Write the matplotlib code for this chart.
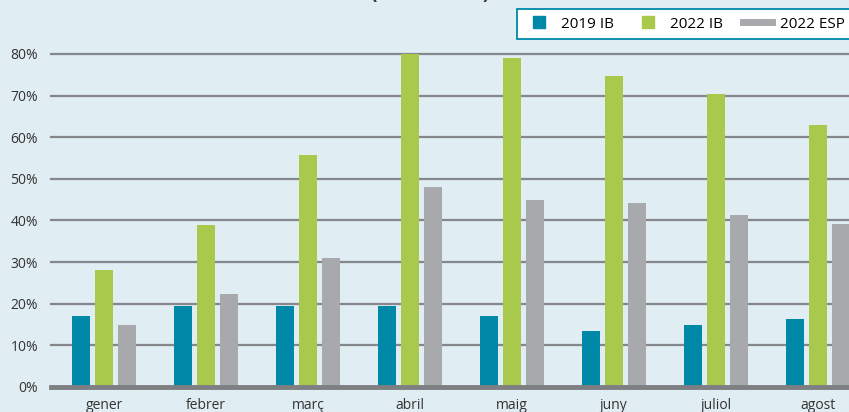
import numpy as np
from matplotlib import pyplot as plt
from matplotlib.lines import Line2D

months = ['gener', 'febrer', 'març', 'abril', 'maig', 'juny', 'juliol', 'agost']
ib_2019 = [17.0, 19.4, 19.4, 19.4, 17.0, 13.4, 14.9, 16.3]
ib_2022 = [28.0, 38.9, 55.8, 80.0, 79.0, 74.7, 70.4, 63.0]
esp_2022 = [14.9, 22.3, 31.1, 48.1, 45.0, 44.3, 41.4, 39.2]
yticks = [0, 10, 20, 30, 40, 50, 60, 70, 80]

teal = '#0088a8'
green = '#a8c94c'
grey = '#a7a9ac'
bg = '#e0edf3'

plt.rcParams['font.family'] = ['Open Sans', 'DejaVu Sans']

if __name__ == '__main__':
    fig = plt.figure(figsize=(8.49, 4.12), dpi=100, facecolor=bg)
    ax = fig.add_axes([0.0597, 25 / 412, 1 - 0.0597, 333 / 412], facecolor=bg)

    index = np.arange(len(months))
    step = 0.225
    w = 0.176
    ax.bar(index - step, ib_2019, w, color=teal, zorder=3)
    ax.bar(index, ib_2022, w, color=green, zorder=3)
    ax.bar(index + step, esp_2022, w, color=grey, zorder=3)

    ax.set_xlim(-0.523, 7.304)
    ax.set_ylim(0, 80)
    ax.set_yticks(yticks)
    ax.set_yticklabels([f'{v}%' for v in yticks], fontsize=10, color='#333333')
    ax.set_xticks(index)
    ax.set_xticklabels(months, fontsize=10, color='#333333')
    ax.tick_params(axis='y', length=0, pad=9)
    ax.tick_params(axis='x', length=0, pad=8)
    for s in ax.spines.values():
        s.set_visible(False)
    for v in yticks[1:]:
        ax.axhline(v, color='#85878a', lw=1.6, zorder=1, clip_on=False)
    ax.axhline(0, color='#7d7f82', lw=3.5, zorder=4, clip_on=False)

    # title is cropped at the top edge in the original
    fig.text(0.507, 1.015, '(2019 i 2022)', ha='center', va='center',
             fontsize=14, fontweight='bold', color='#333333')

    handles = [
        Line2D([], [], marker='s', color=teal, linestyle='none', markersize=8),
        Line2D([], [], marker='s', color=green, linestyle='none', markersize=8),
        Line2D([], [], color=grey, lw=5),
    ]
    leg = fig.legend(handles, ['2019 IB', '2022 IB', '2022 ESP'], ncol=3,
                     loc='upper right', bbox_to_anchor=(1.004, 1 - 9 / 412),
                     borderaxespad=0, fontsize=11, fancybox=False,
                     facecolor='white', edgecolor=teal, framealpha=1,
                     handlelength=1.9, handletextpad=0.5, columnspacing=1.3,
                     borderpad=0.5)
    leg.get_frame().set_linewidth(1.3)

    plt.savefig('out.png', dpi=100, facecolor=bg)
